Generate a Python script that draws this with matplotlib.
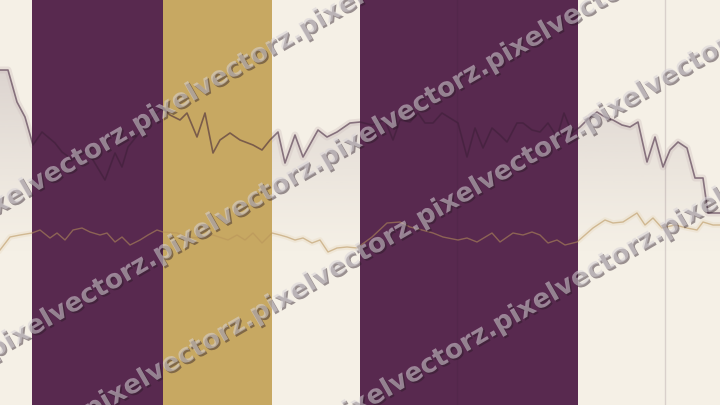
import numpy as np
import matplotlib
matplotlib.use("Agg")
import matplotlib.pyplot as plt
import matplotlib.patheffects as pe

# data (x in pixels, values = height from bottom)
t_upper = [0, 8, 17, 25, 33, 42, 55, 62, 73, 80, 90, 105, 115, 122, 128, 140, 148, 156, 163,
           170, 180, 187, 197, 205, 213, 220, 230, 240, 253, 262, 270, 278, 285, 295, 303, 318,
           327, 337, 350, 360, 372, 385, 393, 400, 410, 418, 425, 433, 442, 450, 458, 467, 475,
           483, 492, 500, 507, 517, 523, 532, 540, 548, 557, 564, 572, 580, 589, 597, 605, 613,
           622, 630, 638, 647, 655, 663, 670, 678, 687, 695, 703, 708, 720]
upper_px = [70, 70, 102, 117, 145, 132, 143, 152, 160, 150, 155, 180, 153, 167, 147, 132, 125, 113, 108,
            115, 120, 113, 137, 113, 153, 140, 133, 140, 145, 150, 140, 132, 163, 135, 157, 130,
            137, 132, 123, 122, 125, 120, 140, 120, 122, 113, 123, 123, 113, 118, 123, 157, 128,
            148, 128, 135, 142, 123, 123, 130, 132, 123, 137, 113, 133, 127, 118, 112, 117, 120,
            125, 127, 122, 162, 137, 167, 150, 142, 148, 178, 178, 213, 213]

t_lower = [0, 10, 20, 32, 40, 50, 57, 65, 73, 82, 90, 100, 107, 115, 122, 130, 140, 148, 157, 163,
           177, 187, 200, 213, 228, 237, 245, 253, 262, 272, 280, 287, 295, 303, 312, 320, 328,
           337, 347, 357, 372, 387, 400, 410, 422, 433, 443, 458, 467, 477, 492, 500, 513, 523,
           532, 540, 548, 557, 565, 577, 593, 605, 613, 623, 637, 645, 653, 662, 675, 687, 697,
           703, 713, 720]
lower_px = [250, 237, 235, 233, 230, 238, 233, 240, 230, 228, 232, 235, 233, 242, 237, 245, 240, 235, 230, 232,
            233, 237, 238, 235, 240, 235, 240, 233, 243, 233, 235, 237, 240, 238, 243, 240, 252,
            248, 247, 248, 237, 223, 222, 227, 230, 233, 237, 240, 238, 242, 233, 242, 233, 235,
            232, 235, 243, 240, 245, 242, 228, 220, 223, 222, 213, 225, 218, 228, 225, 228, 230,
            222, 225, 225]

upper = [405 - v for v in upper_px]
lower = [405 - v for v in lower_px]

# shaded periods
band_start = [32, 163, 360]
band_end = [163, 272, 578]
band_colors = ["#58294f", "#c7a862", "#58294f"]

markers = [457, 665]

bg = "#f5f0e6"

fig = plt.figure(figsize=(7.2, 4.05), dpi=100)
ax = fig.add_axes([0, 0, 1, 1])
ax.set_facecolor(bg)
fig.patch.set_facecolor(bg)

# gradient area under the upper line
poly = ax.fill_between(t_upper, upper, 0, color="none", zorder=0.5)
grad = np.zeros((256, 1, 4))
grad[:, 0, 0] = 190 / 255
grad[:, 0, 1] = 178 / 255
grad[:, 0, 2] = 180 / 255
grad[:, 0, 3] = 0.45 * np.linspace(0, 1, 256) ** 1.2
im = ax.imshow(grad, extent=[0, 720, 150, max(upper)], origin="lower", aspect="auto", zorder=0.5)
im.set_clip_path(poly.get_paths()[0], transform=ax.transData)
ax.set_xlim(0, 720)
ax.set_ylim(0, 405)
ax.axis("off")

# soft halo under the lines (only shows on the plain background)
ax.plot(t_upper, upper, color="#cdbdbd", alpha=0.35, lw=5, solid_joinstyle="round", zorder=0.8)
ax.plot(t_lower, lower, color="#e8d8bc", alpha=0.35, lw=4, solid_joinstyle="round", zorder=0.8)

# bands
for s, e, c in zip(band_start, band_end, band_colors):
    ax.axvspan(s, e, color=c, lw=0, zorder=1)

for m in markers:
    ax.axvline(m, color="#3c1e37", alpha=0.15, lw=1, zorder=2)

ax.plot(t_upper, upper, color="#3c1e37", alpha=0.55, lw=1.2, zorder=3)
ax.plot(t_lower, lower, color="#b8935a", alpha=0.55, lw=1.0, zorder=3)

# watermark rows
wm_x = [-32, -177, 86, 163]
wm_y = [182, -44, -8, -114]
for x0, y0 in zip(wm_x, wm_y):
    ax.text(x0, y0, "pixelvectorz." * 6, rotation=30, rotation_mode="anchor",
            ha="left", va="center", fontsize=19, fontweight="bold",
            color="#d7d2d7", alpha=0.55, zorder=5,
            path_effects=[pe.withSimplePatchShadow(offset=(1.2, -1.2),
                                                   shadow_rgbFace="#2a1a26", alpha=0.45)])

fig.savefig("out.png", dpi=100, facecolor=bg)
